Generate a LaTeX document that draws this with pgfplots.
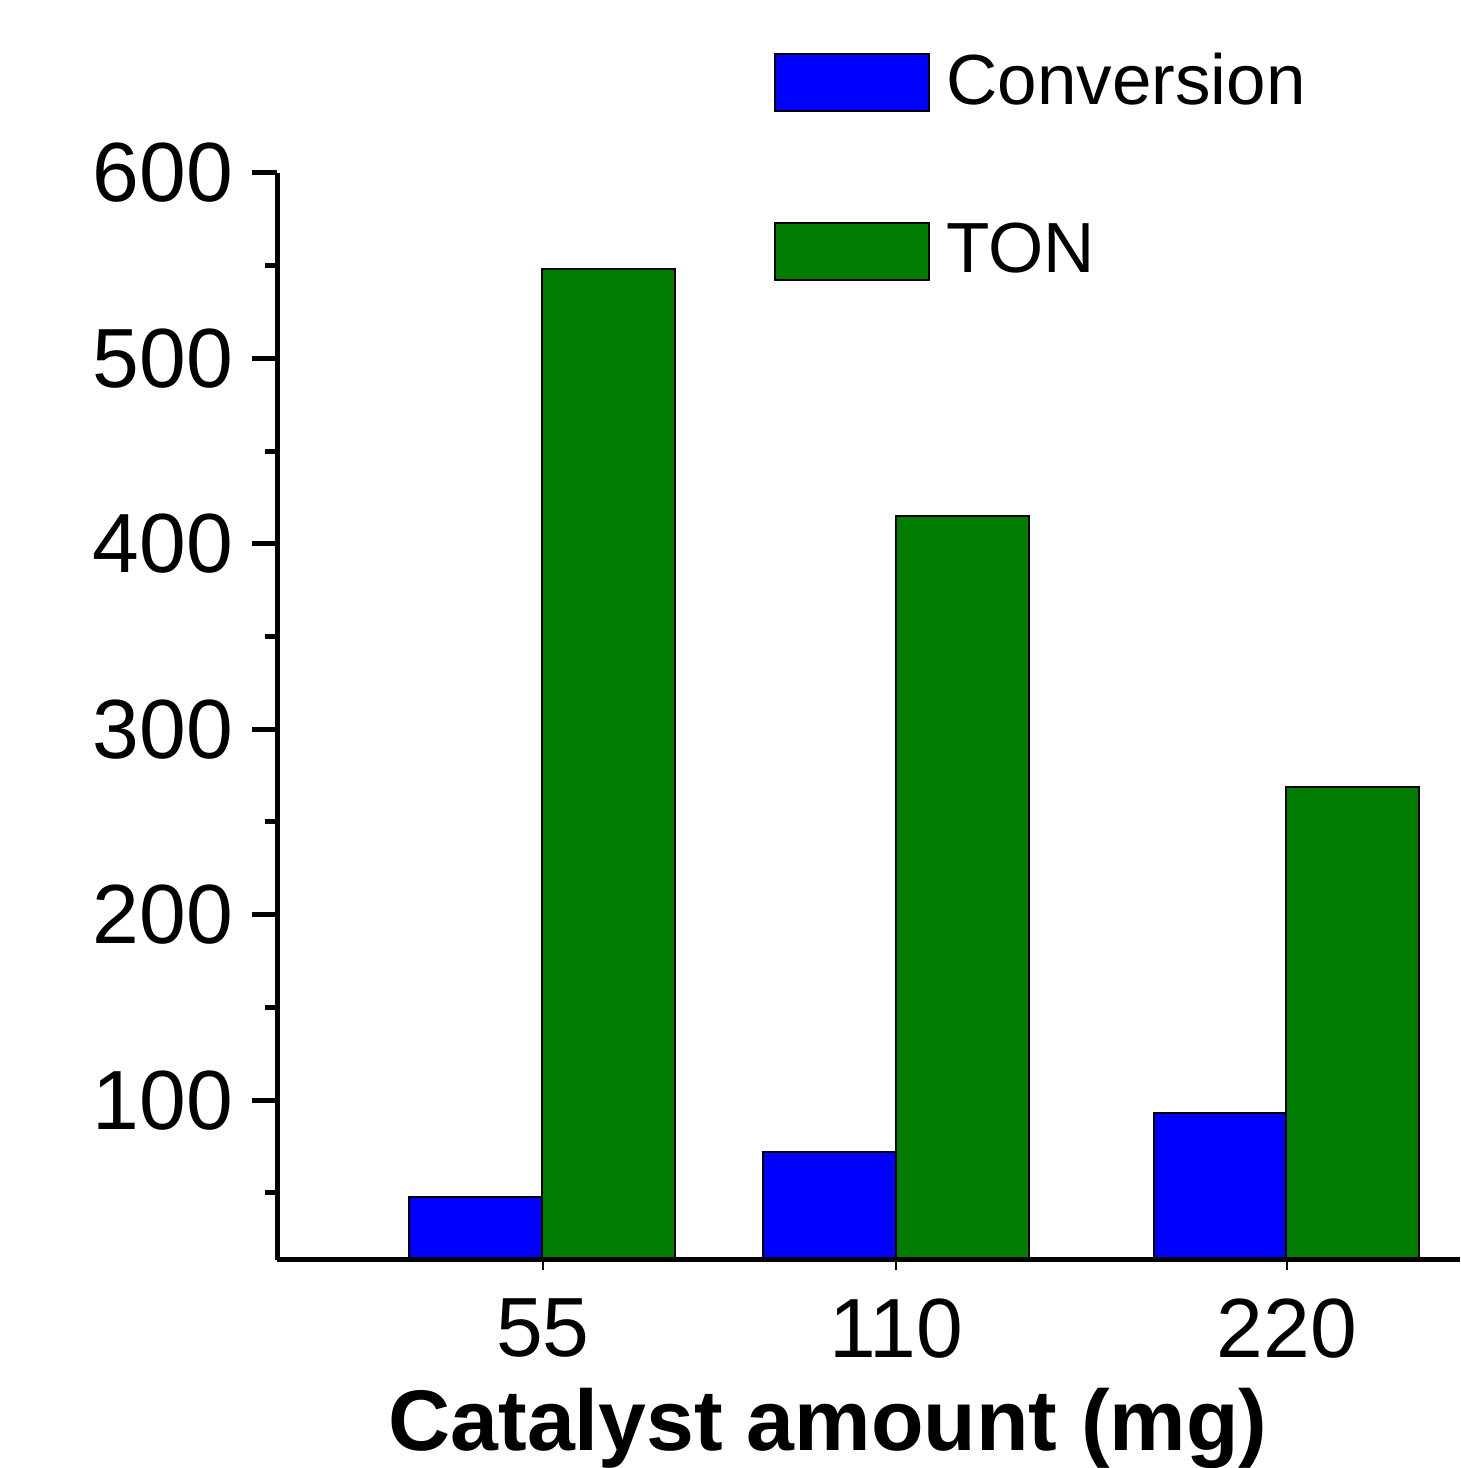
\documentclass[border=0pt]{standalone}
\usepackage{fontspec}
\setmainfont{Liberation Sans}
\usepackage{pgfplots}
\pgfplotsset{compat=1.18}
\definecolor{cblue}{RGB}{0,0,255}
\definecolor{cgreen}{RGB}{0,125,0}
\begin{document}
\begin{tikzpicture}
\useasboundingbox (0,0) rectangle (292pt,293.6pt);
\begin{axis}[
  at={(55.4pt,41.6pt)}, anchor=south west,
  scale only axis, width=236.6pt, height=217.4pt,
  xmin=277, xmax=1460, ymin=13.8, ymax=600,
  axis lines=left, axis line style={-, line width=1pt},
  axis on top,
  xtick={543,896,1287}, xticklabels={55,110,220},
  ytick={100,200,...,600}, minor ytick={50,150,...,550},
  tick align=outside,
  major tick length=5pt, minor tick length=2.4pt,
  ytick style={line width=1pt, black},
  xtick style={/pgfplots/major tick length=2pt, line width=0.5pt, black},
  /pgf/number format/assume math mode=true,
  ticklabel style={font=\fontsize{16.8}{18}\selectfont, inner sep=0pt},
  yticklabel style={xshift=-3.6pt},
  xticklabel style={yshift=-2.6pt},
  xlabel={\bfseries Catalyst amount (mg)},
  xlabel style={font=\fontsize{17.2}{20}\selectfont, at={(axis description cs:0.4658,-0.1748)}, anchor=base, inner sep=0pt},
  legend style={at={(axis description cs:0.4193,1.1113)}, anchor=north west, draw=none, fill=none, inner sep=0pt, row sep=22pt,
    font=\fontsize{14.2}{16}\selectfont, nodes={inner ysep=0pt, inner xsep=3.3pt}},
  legend cell align=left,
  legend image code/.code={\draw[#1] (0pt,-5.7pt) rectangle (30.8pt,5.7pt);},
]
\addplot[ybar, bar width=133, bar shift=0pt, fill=cblue, draw=black, line width=0.4pt]
  coordinates {(475.5,47.7) (829,72.2) (1220,93.0)};
\addlegendentry{Conversion}
\addplot[ybar, bar width=133, bar shift=0pt, fill=cgreen, draw=black, line width=0.4pt]
  coordinates {(608.5,548.0) (962,414.8) (1352.5,269.0)};
\addlegendentry{TON}
\end{axis}
\end{tikzpicture}
\end{document}
